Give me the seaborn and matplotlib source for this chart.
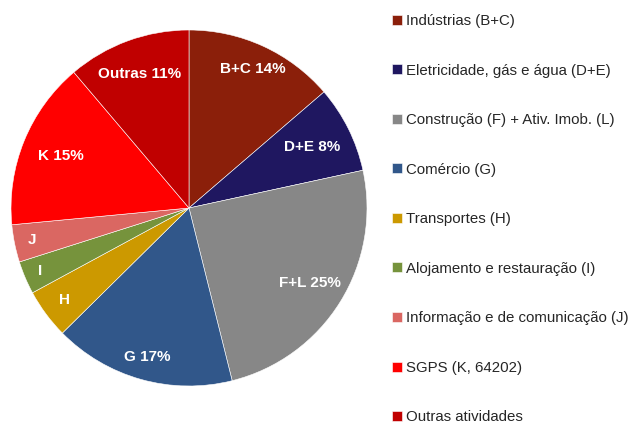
import numpy as np
import seaborn as sns
import matplotlib.pyplot as plt

# Data
legend_labels = ['Indústrias (B+C)', 'Eletricidade, gás e água (D+E)',
                 'Construção (F) + Ativ. Imob. (L)', 'Comércio (G)',
                 'Transportes (H)', 'Alojamento e restauração (I)',
                 'Informação e de comunicação (J)', 'SGPS (K, 64202)',
                 'Outras atividades']
slice_labels = ['B+C 14%', 'D+E 8%', 'F+L 25%', 'G 17%', 'H', 'I', 'J',
                'K 15%', 'Outras 11%']
shares = [13.7, 7.9, 24.5, 16.5, 4.5, 3.0, 3.4, 15.3, 11.2]
colors = ['#8B1F0A', '#1F1760', '#878787', '#31578A', '#CC9900',
          '#76933C', '#DA6762', '#FF0000', '#C00000']

sns.set_style('white')
plt.rcParams['font.family'] = ['Liberation Sans', 'DejaVu Sans']

fig = plt.figure(figsize=(6.33, 4.24), dpi=100)
ax = fig.add_axes([11 / 633, 38 / 424, 356 / 633, 356 / 424])

wedges, _ = ax.pie(shares, colors=colors, startangle=90, counterclock=False,
                   wedgeprops=dict(edgecolor='white', linewidth=0.4))
ax.set_xlim(-1, 1)
ax.set_ylim(-1, 1)

# label placement: radial fraction per slice
label_r = [0.86, 0.77, 0.80, 0.87, 0.87, 0.91, 0.90, 0.78, 0.80]
for w, txt, r in zip(wedges, slice_labels, label_r):
    ang = np.deg2rad((w.theta1 + w.theta2) / 2)
    ax.text(r * np.cos(ang), r * np.sin(ang), txt, ha='center', va='center',
            color='white', fontsize=11, fontweight='bold')
ax.set_aspect('equal')

fig.legend(wedges, legend_labels, loc='upper left',
           bbox_to_anchor=(392 / 633, 1 - 14 / 424), frameon=False,
           fontsize=10.8, handlelength=0.65, handleheight=0.65,
           handletextpad=0.3, labelspacing=2.37, borderpad=0,
           borderaxespad=0)

fig.savefig('out.png', dpi=100)
